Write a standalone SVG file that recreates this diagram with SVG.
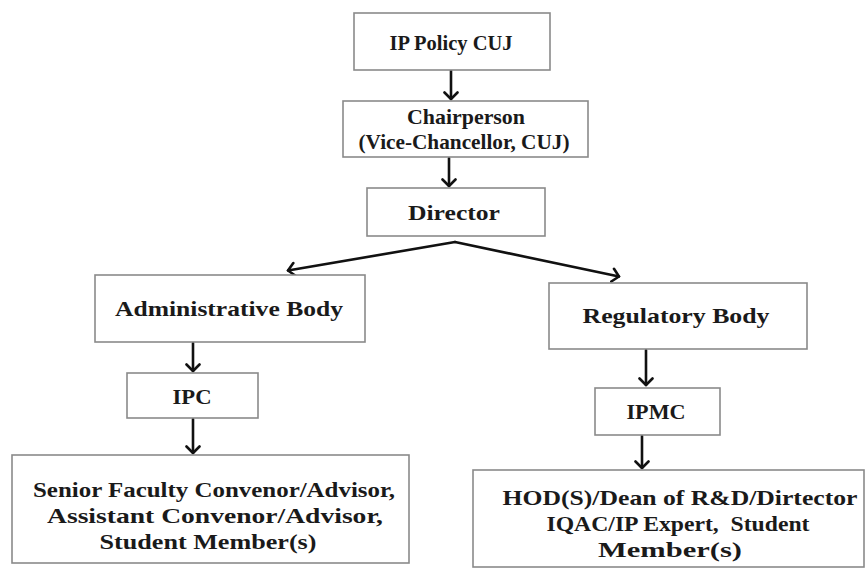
<svg xmlns="http://www.w3.org/2000/svg" width="867" height="571" viewBox="0 0 867 571">
<style>
.box{fill:#ffffff;stroke:#8a8a8a;stroke-width:1.6}
.t{font-family:"Liberation Serif","Times New Roman",serif;font-weight:bold;font-size:22px;fill:#1a1a1a;text-anchor:middle}
.c{fill:none;stroke:#111;stroke-width:2.6;stroke-linecap:round;stroke-linejoin:round}
</style>
<defs>
<marker id="ah" markerUnits="userSpaceOnUse" markerWidth="16" markerHeight="16" refX="8" refY="8" orient="auto">
<path d="M1.5,1.5 L8,8 L1.5,14.5" fill="none" stroke="#111" stroke-width="2.6" stroke-linecap="round" stroke-linejoin="round"/>
</marker>
</defs>
<rect x="0" y="0" width="867" height="571" fill="#ffffff"/>
<g id="connectors">
<line class="c" x1="451" y1="70" x2="451" y2="99" marker-end="url(#ah)"/>
<line class="c" x1="449" y1="158" x2="449" y2="186" marker-end="url(#ah)"/>
<polyline class="c" points="455,242 288,270.5" marker-end="url(#ah)"/>
<polyline class="c" points="455,242 619,276.5" marker-end="url(#ah)"/>
<line class="c" x1="193" y1="343" x2="193" y2="371" marker-end="url(#ah)"/>
<line class="c" x1="193" y1="419" x2="193" y2="453" marker-end="url(#ah)"/>
<line class="c" x1="646" y1="350" x2="646" y2="385" marker-end="url(#ah)"/>
<line class="c" x1="642" y1="436" x2="642" y2="468" marker-end="url(#ah)"/>
</g>
<g id="ip-policy">
<rect class="box" x="354" y="13" width="196" height="57"/>
<text class="t" x="451" y="50" textLength="123" lengthAdjust="spacingAndGlyphs">IP Policy CUJ</text>
</g>
<g id="chairperson">
<rect class="box" x="343" y="101" width="245" height="56"/>
<text class="t" x="466" y="124" textLength="118" lengthAdjust="spacingAndGlyphs">Chairperson</text>
<text class="t" x="464" y="149" textLength="211" lengthAdjust="spacingAndGlyphs">(Vice-Chancellor, CUJ)</text>
</g>
<g id="director">
<rect class="box" x="367" y="188" width="178" height="48"/>
<text class="t" x="454" y="220" textLength="92" lengthAdjust="spacingAndGlyphs">Director</text>
</g>
<g id="admin-body">
<rect class="box" x="95" y="275" width="270" height="67"/>
<text class="t" x="229" y="316" textLength="228" lengthAdjust="spacingAndGlyphs">Administrative Body</text>
</g>
<g id="regulatory-body">
<rect class="box" x="549" y="283" width="258" height="66"/>
<text class="t" x="676" y="323" textLength="187" lengthAdjust="spacingAndGlyphs">Regulatory Body</text>
</g>
<g id="ipc">
<rect class="box" x="127" y="373" width="131" height="45"/>
<text class="t" x="192" y="404" textLength="39" lengthAdjust="spacingAndGlyphs">IPC</text>
</g>
<g id="ipmc">
<rect class="box" x="595" y="388" width="125" height="47"/>
<text class="t" x="656" y="419" textLength="59" lengthAdjust="spacingAndGlyphs">IPMC</text>
</g>
<g id="ipc-members">
<rect class="box" x="12" y="455" width="397" height="108"/>
<text class="t" x="214" y="497" textLength="362" lengthAdjust="spacingAndGlyphs">Senior Faculty Convenor/Advisor,</text>
<text class="t" x="215" y="523" textLength="336" lengthAdjust="spacingAndGlyphs">Assistant Convenor/Advisor,</text>
<text class="t" x="208" y="549" textLength="217" lengthAdjust="spacingAndGlyphs">Student Member(s)</text>
</g>
<g id="ipmc-members">
<rect class="box" x="473" y="470" width="391" height="97"/>
<text class="t" x="680" y="505" textLength="355" lengthAdjust="spacingAndGlyphs">HOD(S)/Dean of R&amp;D/Dirtector</text>
<text class="t" x="678" y="531" textLength="263" lengthAdjust="spacingAndGlyphs" xml:space="preserve">IQAC/IP Expert,  Student</text>
<text class="t" x="670" y="557" textLength="144" lengthAdjust="spacingAndGlyphs">Member(s)</text>
</g>
</svg>
